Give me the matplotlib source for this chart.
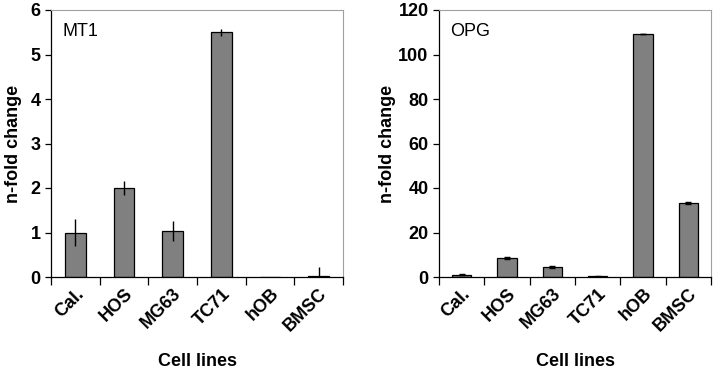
import matplotlib.pyplot as plt
import numpy as np

plt.rcParams['font.family'] = ['Liberation Sans', 'DejaVu Sans']

cells = ['Cal.', 'HOS', 'MG63', 'TC71', 'hOB', 'BMSC']

mt1_vals = [1.0, 2.0, 1.03, 5.5, 0.0, 0.03]
mt1_err = [0.3, 0.15, 0.23, 0.08, 0.0, 0.2]

opg_vals = [1.0, 8.5, 4.5, 0.3, 109.2, 33.2]
opg_err = [0.2, 0.4, 0.4, 0.3, 0.2, 0.3]

fig = plt.figure(figsize=(7.2, 3.71), dpi=100)
ax1 = fig.add_axes([51 / 720, 1 - 277 / 371, 292 / 720, 267 / 371])
ax2 = fig.add_axes([439 / 720, 1 - 277 / 371, 272 / 720, 267 / 371])

panels = [
    (ax1, mt1_vals, mt1_err, 'MT1', 6, 1, 0),
    (ax2, opg_vals, opg_err, 'OPG', 120, 20, 2),
]

x = np.arange(len(cells))
for ax, vals, err, name, ymax, step, cap in panels:
    ax.bar(x, vals, width=0.42, color='#808080', edgecolor='black', linewidth=0.9, zorder=2)
    ax.errorbar(x, vals, yerr=err, fmt='none', ecolor='black', elinewidth=1,
                capsize=cap, capthick=1, zorder=3)
    ax.set_xlim(-0.5, len(cells) - 0.5)
    ax.set_ylim(0, ymax)
    ax.set_yticks(np.arange(0, ymax + step / 2, step))
    ax.set_xticks(np.arange(-0.5, len(cells), 1.0))
    ax.set_xticklabels([])
    ax.set_xticks(x, minor=True)
    ax.set_xticklabels(cells, minor=True, rotation=45, ha='right',
                       rotation_mode='anchor', fontsize=13, fontweight='bold')
    ax.tick_params(axis='x', which='minor', length=0, pad=6)
    ax.tick_params(axis='x', which='major', direction='out', length=6, width=0.9)
    ax.tick_params(axis='y', direction='out', length=4, width=0.9, labelsize=13)
    for lab in ax.get_yticklabels():
        lab.set_fontweight('bold')
    ax.spines['top'].set_color('#a0a0a0')
    ax.spines['right'].set_color('#a0a0a0')
    ax.spines['left'].set_linewidth(0.9)
    ax.spines['bottom'].set_linewidth(0.9)
    ax.set_ylabel('n-fold change', fontsize=13, fontweight='bold')
    ax.set_xlabel('Cell lines', fontsize=13, fontweight='bold')
    ax.text(0.04, 0.95, name, transform=ax.transAxes, fontsize=13, va='top', ha='left')

ax1.yaxis.set_label_coords(-0.1, 0.5)
ax2.yaxis.set_label_coords(-0.158, 0.5)
ax1.xaxis.set_label_coords(0.5, -0.285)
ax2.xaxis.set_label_coords(0.5, -0.285)

plt.savefig('out.png', dpi=100)
